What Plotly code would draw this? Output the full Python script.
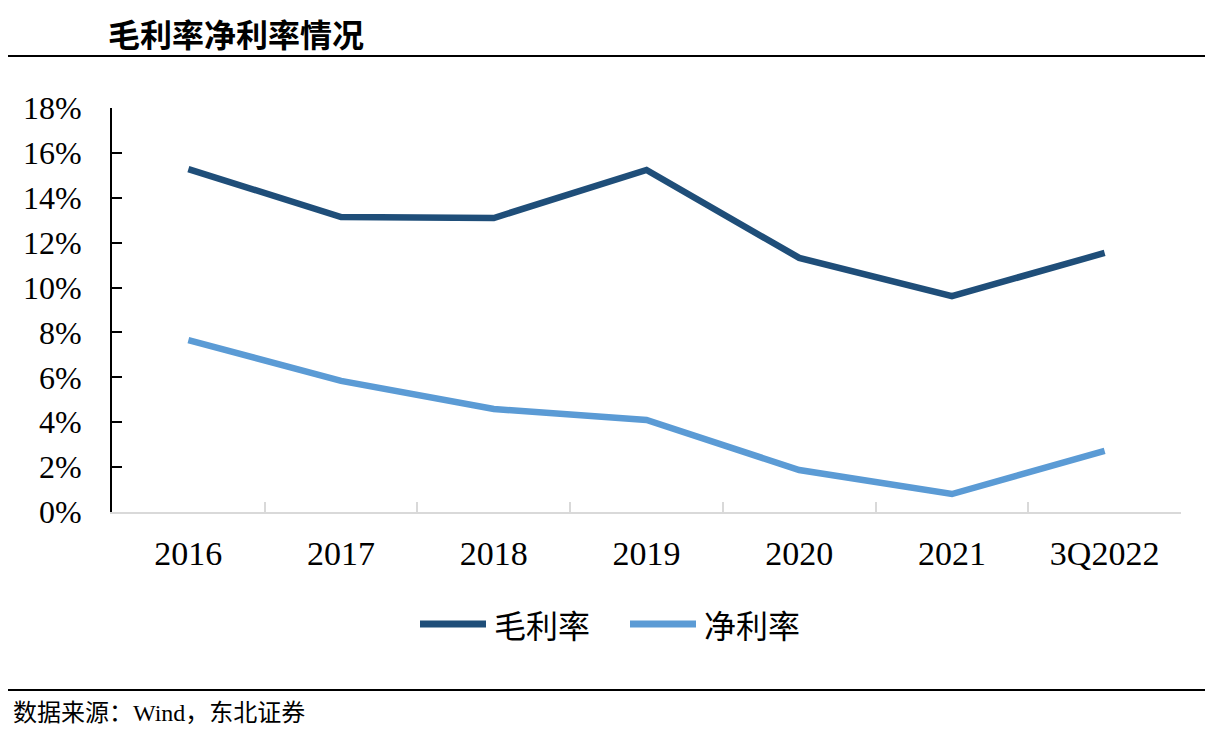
import plotly.graph_objects as go

categories = ["2016", "2017", "2018", "2019", "2020", "2021", "3Q2022"]
gross_margin = [15.28, 13.14, 13.10, 15.24, 11.32, 9.62, 11.54]
net_margin = [7.66, 5.84, 4.59, 4.10, 1.87, 0.80, 2.72]
series_names = ["毛利率", "净利率"]
y_ticks = [0, 2, 4, 6, 8, 10, 12, 14, 16, 18]
y_tick_text = [f"{v}%" for v in y_ticks]

DARK = "#1F4E79"
LIGHT = "#5B9BD5"
SERIF = "Liberation Serif, Times New Roman, serif"
CJK = "Noto Sans CJK SC, sans-serif"

# page has an 8px body margin; figure sized so the page fits the window
OFF = 8
W, H = 1226 - 2 * OFF, 737 - 2 * OFF
L, T = 112 - OFF, 108 - OFF
R = (OFF + W) - 1181
B = (OFF + H) - 512
pw = W - L - R
ph = H - T - B


def px(x):
    return (x - OFF - L) / pw


def py(y):
    return (OFF + H - B - y) / ph


fig = go.Figure()
fig.add_trace(go.Scatter(x=categories, y=gross_margin, mode="lines", name=series_names[0],
                         line=dict(color=DARK, width=6.5), showlegend=False))
fig.add_trace(go.Scatter(x=categories, y=net_margin, mode="lines", name=series_names[1],
                         line=dict(color=LIGHT, width=6.5), showlegend=False))

fig.update_layout(
    width=W, height=H,
    margin=dict(l=L, r=R, t=T, b=B, pad=0),
    paper_bgcolor="white", plot_bgcolor="white",
    xaxis=dict(type="category", range=[-0.5, 6.5], showline=True, linecolor="#d9d9d9",
               linewidth=2, ticks="inside", tickson="boundaries", ticklen=10,
               tickcolor="#d9d9d9", tickwidth=2, showgrid=False, zeroline=False,
               tickfont=dict(family=SERIF, size=34, color="black"), ticklabelstandoff=10),
    yaxis=dict(range=[0, 18], tickmode="array", tickvals=y_ticks, ticktext=y_tick_text,
               showline=True, linecolor="black", linewidth=2, ticks="inside", ticklen=10,
               tickcolor="black", tickwidth=2, showgrid=False, zeroline=False,
               tickfont=dict(family=SERIF, size=32, color="black"), ticklabelstandoff=22),
    showlegend=False,
)

shapes = [
    dict(type="line", xref="paper", yref="paper", x0=px(8), x1=px(1205), y0=py(56), y1=py(56),
         line=dict(color="black", width=2)),
    dict(type="line", xref="paper", yref="paper", x0=px(8), x1=px(1205), y0=py(690), y1=py(690),
         line=dict(color="black", width=2)),
    dict(type="line", xref="paper", yref="paper", x0=px(420), x1=px(486), y0=py(624), y1=py(624),
         line=dict(color=DARK, width=7)),
    dict(type="line", xref="paper", yref="paper", x0=px(630), x1=px(696), y0=py(624), y1=py(624),
         line=dict(color=LIGHT, width=7)),
]
fig.update_layout(shapes=shapes)

annotations = [
    dict(text="<b>毛利率净利率情况</b>", xref="paper", yref="paper", x=px(106), y=py(33),
         xanchor="left", yanchor="middle", showarrow=False,
         font=dict(family=CJK, size=32, color="black")),
    dict(text=series_names[0], xref="paper", yref="paper", x=px(492), y=py(624),
         xanchor="left", yanchor="middle", showarrow=False,
         font=dict(family=CJK, size=32, color="black")),
    dict(text=series_names[1], xref="paper", yref="paper", x=px(702), y=py(624),
         xanchor="left", yanchor="middle", showarrow=False,
         font=dict(family=CJK, size=32, color="black")),
    dict(text="数据来源：<span style='font-family:Liberation Serif'>Wind</span>，东北证券",
         xref="paper", yref="paper", x=px(11), y=py(710),
         xanchor="left", yanchor="middle", showarrow=False,
         font=dict(family=CJK, size=24, color="black")),
]
fig.update_layout(annotations=annotations)

fig.write_html("out.html")
